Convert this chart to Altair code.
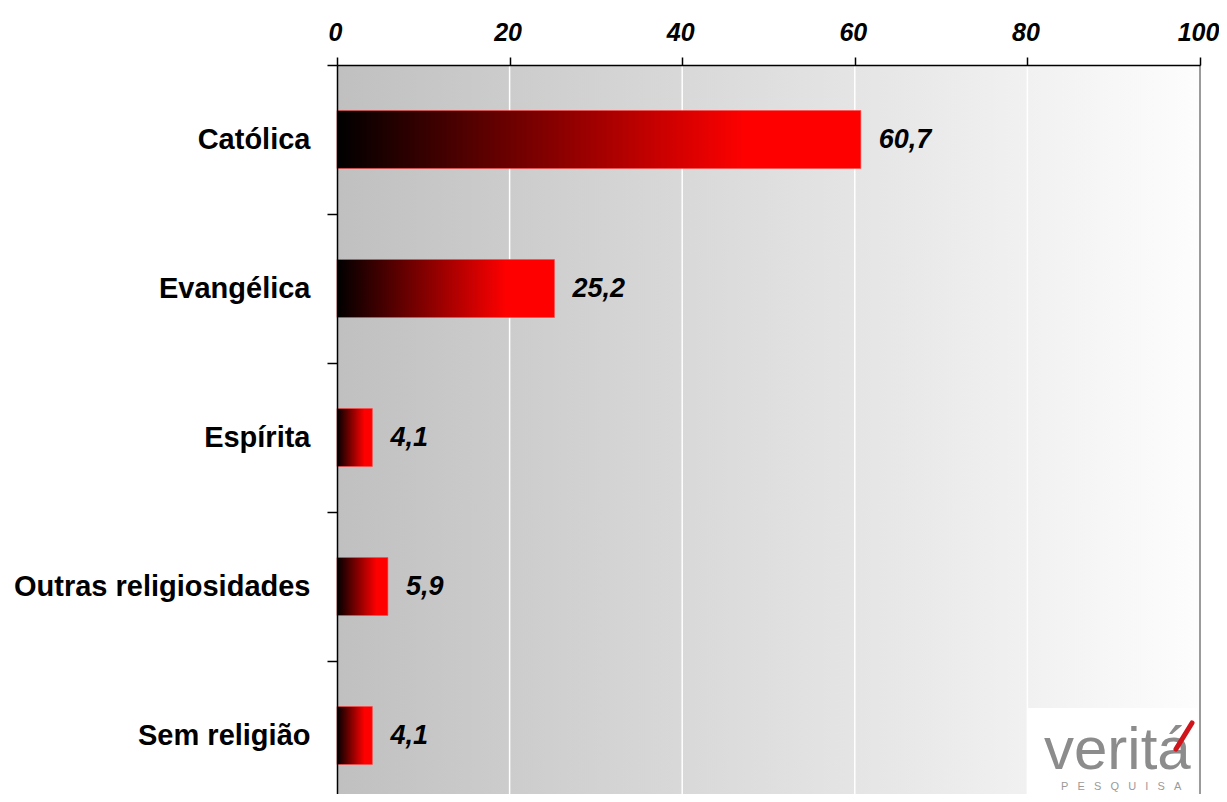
import altair as alt
import pandas as pd

categories = ["Católica", "Evangélica", "Espírita", "Outras religiosidades", "Sem religião"]
values = [60.7, 25.2, 4.1, 5.9, 4.1]
value_labels = ["60,7", "25,2", "4,1", "5,9", "4,1"]
x_ticks = [0, 20, 40, 60, 80, 100]
grid_values = [20, 40, 60, 80]

FONT = "Liberation Sans"
W, H = 863, 729
RANGE_H = 745

df = pd.DataFrame({"cat": categories, "val": values, "lab": value_labels})

xscale = alt.Scale(domain=[0, 100], nice=False, zero=True)
yscale = alt.Scale(domain=categories, range=[0, RANGE_H], paddingInner=0, paddingOuter=0)

xaxis = alt.Axis(
    orient="top", values=x_ticks, title=None, grid=False, labelFlush=False,
    labelFont=FONT, labelFontSize=25, labelFontWeight="bold", labelFontStyle="italic",
    labelColor="black", labelPadding=12, labelOffset=-2, domainColor="black", domainWidth=1.5,
    tickColor="black", tickWidth=1.5, tickSize=8, zindex=2,
)
yaxis = alt.Axis(
    title=None, grid=False, tickBand="extent", labelFont=FONT, labelFontSize=29,
    labelFontWeight="bold", labelColor="black", labelPadding=17, labelLimit=500,
    domainColor="black", domainWidth=1.5, tickColor="black", tickWidth=1.5, tickSize=10,
    zindex=2,
)

bg_grad = {
    "gradient": "linear", "x1": 0, "x2": 1, "y1": 0, "y2": 0,
    "stops": [{"offset": 0, "color": "#c0c0c0"}, {"offset": 1, "color": "#fdfdfd"}],
}
bar_grad = {
    "gradient": "linear", "x1": 0, "x2": 1, "y1": 0, "y2": 0,
    "stops": [
        {"offset": 0, "color": "#000000"},
        {"offset": 0.78, "color": "#ff0000"},
        {"offset": 1, "color": "#ff0000"},
    ],
}

bg = alt.Chart(pd.DataFrame({"a": [0], "b": [100]})).mark_rect(fill=bg_grad).encode(
    x=alt.X("a:Q", scale=xscale, axis=xaxis), x2="b:Q",
    y=alt.value(0), y2=alt.value(RANGE_H),
)

grid = alt.Chart(pd.DataFrame({"g": grid_values})).mark_rule(color="white", strokeWidth=1.5).encode(
    x=alt.X("g:Q", scale=xscale, axis=xaxis), y=alt.value(0), y2=alt.value(RANGE_H),
)

border = alt.Chart(pd.DataFrame({"r": [100]})).mark_rule(color="#7a7a7a", strokeWidth=1.5).encode(
    x=alt.X("r:Q", scale=xscale, axis=xaxis), y=alt.value(0), y2=alt.value(RANGE_H),
)

bars = alt.Chart(df).mark_bar(size=58, fill=bar_grad, stroke="#ff4a4a", strokeWidth=0.6).encode(
    x=alt.X("val:Q", scale=xscale, axis=xaxis),
    y=alt.Y("cat:N", scale=yscale, axis=yaxis, sort=categories),
)

texts = alt.Chart(df).mark_text(
    align="left", baseline="middle", dx=18, font=FONT, fontSize=27,
    fontWeight="bold", fontStyle="italic", color="black",
).encode(
    x=alt.X("val:Q", scale=xscale, axis=xaxis),
    y=alt.Y("cat:N", scale=yscale, axis=yaxis, sort=categories),
    text="lab:N",
)

nb = "\u00a0\u00a0\u00a0"
logo_df = pd.DataFrame({"name": ["veritá"], "sub": [nb.join(list("PESQUISA"))]})

logo_box = alt.Chart(logo_df).mark_rect(color="white").encode(
    x=alt.value(690), x2=alt.value(860), y=alt.value(643), y2=alt.value(733),
)
logo_name = alt.Chart(logo_df).mark_text(
    align="left", baseline="alphabetic", font=FONT, fontSize=60, color="#8c8c8c",
).encode(x=alt.value(707), y=alt.value(704), text="name:N")
logo_accent = alt.Chart(logo_df).mark_rule(color="#d0141c", strokeWidth=5, strokeCap="round").encode(
    x=alt.value(855), y=alt.value(658), x2=alt.value(839), y2=alt.value(684),
)
logo_sub = alt.Chart(logo_df).mark_text(
    align="left", baseline="middle", font=FONT, fontSize=11, color="#9a9a9a",
).encode(x=alt.value(724), y=alt.value(722), text="sub:N")

title = alt.Chart(pd.DataFrame({"t": ["Gráfico"]})).mark_text(
    align="left", baseline="alphabetic", font=FONT, fontSize=24, fontWeight="bold",
    fontStyle="italic", color="black",
).encode(x=alt.value(-330), y=alt.value(-58), text="t:N")

chart = alt.layer(
    bg, grid, border, bars, texts, logo_box, logo_name, logo_accent, logo_sub, title
).properties(
    width=W, height=H,
    autosize=alt.AutoSizeParams(type="none"),
    padding={"left": 329, "top": 57, "right": 19, "bottom": 0},
).configure_view(stroke=None)

chart.save("out.html", embed_options={"renderer": "svg", "actions": False})
